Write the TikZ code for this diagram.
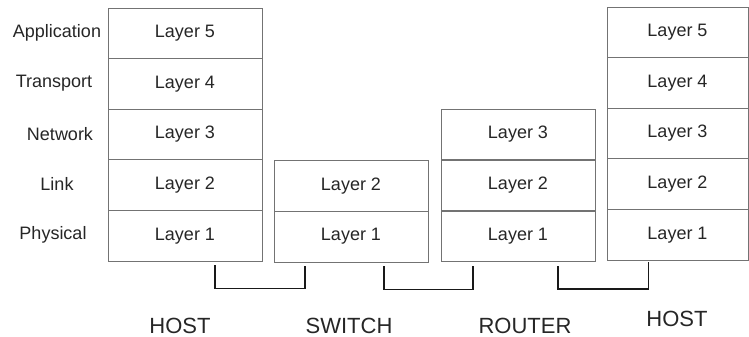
\documentclass[tikz,border=0pt]{standalone}
\usepackage{fontspec}
\setmainfont{Liberation Sans}
\begin{document}
\begin{tikzpicture}[x=1pt,y=-1pt,
    layerbox/.style={draw=black!55,line width=0.8pt,minimum width=154pt,minimum height=50.6pt,inner sep=0pt,font=\fontsize{18}{20}\selectfont,text=black!85},
    rowlabel/.style={font=\fontsize{18}{20}\selectfont,text=black!85},
    devlabel/.style={font=\fontsize{22}{24}\selectfont,text=black!85},
    wire/.style={draw=black!90,line width=1.5pt}]
    \useasboundingbox (0,0) rectangle (749,337);

    % host on the left
    \foreach \i in {1,...,5}
        \node[layerbox] (h1l\i) at (185,{261-(\i-0.5)*50.6}) {Layer \i};
    % switch
    \foreach \i in {1,2}
        \node[layerbox] (s1l\i) at (351,{262-(\i-0.5)*50.8}) {Layer \i};
    % router
    \foreach \i in {1,...,3}
        \node[layerbox] (r1l\i) at (518,{262-(\i-0.5)*51}) {Layer \i};
    % host on the right
    \foreach \i in {1,...,5}
        \node[layerbox,minimum width=141pt] (h2l\i) at (677.5,{260-(\i-0.5)*50.6}) {Layer \i};

    \node[rowlabel] (app) at (57,33) {Application};
    \node[rowlabel] (trans) at (54,83) {Transport};
    \node[rowlabel] (net) at (60,134) {Network};
    \node[rowlabel] (link) at (57,184) {Link};
    \node[rowlabel] (phys) at (53,235) {Physical};

    \draw[wire] ([shift={(30pt,-4pt)}]h1l1.south) -- ++(0,-23pt) -| ([shift={(-46pt,-4pt)}]s1l1.south);
    \draw[wire] ([shift={(33pt,-4pt)}]s1l1.south) -- ++(0,-23pt) -| ([shift={(-45pt,-4pt)}]r1l1.south);
    \draw[wire] ([shift={(40pt,-4pt)}]r1l1.south) -- ++(0,-23pt) -| ([shift={(-29pt,-2pt)}]h2l1.south);

    \node[devlabel] (host1) at (180,326) {HOST};
    \node[devlabel] (switch) at (349,326) {SWITCH};
    \node[devlabel] (router) at (525,326) {ROUTER};
    \node[devlabel] (host2) at (677,319) {HOST};
\end{tikzpicture}
\end{document}
